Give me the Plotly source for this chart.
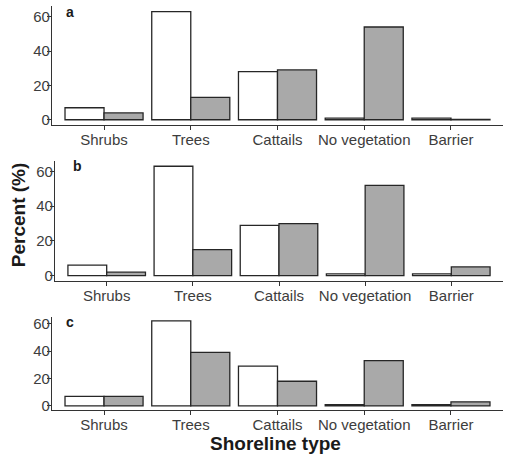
import plotly.graph_objects as go

categories = ["Shrubs", "Trees", "Cattails", "No vegetation", "Barrier"]
# panel a
a_white = [7, 63, 28, 1, 1]
a_grey = [4, 13, 29, 54, 0.2]
# panel b
b_white = [6, 63, 29, 1, 1]
b_grey = [2, 15, 30, 52, 5]
# panel c
c_white = [7, 62, 29, 1, 1]
c_grey = [7, 39, 18, 33, 3]
y_ticks = [0, 20, 40, 60]
panel_labels = ["a", "b", "c"]

W, H = 505, 460
FONT = "Liberation Sans, Arial, sans-serif"
EDGE = "#262626"
GREY = "#A9A9A9"

panels = [(a_white, a_grey), (b_white, b_grey), (c_white, c_grey)]
# pixel geometry (left, right, top, bottom)
geom = [(52, 503, 4.2, 124.8), (55, 503, 160.9, 282.8), (52, 503, 318.8, 413.6)]
label_pos = [(69.5, 10), (77.5, 166.5), (69.5, 324)]

fig = go.Figure()
for i, (wv, gv) in enumerate(panels):
    sfx = "" if i == 0 else str(i + 1)
    fig.add_trace(go.Bar(x=categories, y=wv, xaxis="x" + sfx, yaxis="y" + sfx,
                         marker=dict(color="white", line=dict(color=EDGE, width=1.3)),
                         offsetgroup="w", showlegend=False))
    fig.add_trace(go.Bar(x=categories, y=gv, xaxis="x" + sfx, yaxis="y" + sfx,
                         marker=dict(color=GREY, line=dict(color=EDGE, width=1.3)),
                         offsetgroup="g", showlegend=False))
    l, r, t, b = geom[i]
    ymax = max(max(wv), max(gv))
    xa = dict(domain=[l / W, r / W], anchor="y" + sfx, type="category",
              range=[-0.6, 4.6], showline=True, linecolor="#333333", linewidth=1.3,
              ticks="outside", ticklen=4, tickcolor="#333333", tickwidth=1.2,
              showgrid=False, zeroline=False, ticklabelstandoff=-3,
              tickfont=dict(family=FONT, size=15, color="#3d3d3d"))
    ya = dict(domain=[1 - b / H, 1 - t / H], anchor="x" + sfx,
              range=[-0.05 * ymax, 1.05 * ymax], showline=True, linecolor="#333333",
              linewidth=1.3, ticks="outside", ticklen=4, tickcolor="#333333",
              tickwidth=1.2, showgrid=False, zeroline=False, tickvals=y_ticks,
              ticklabelstandoff=-6,
              tickfont=dict(family=FONT, size=15, color="#3d3d3d"))
    fig.update_layout(**{"xaxis" + sfx: xa, "yaxis" + sfx: ya})
    lx, ly = label_pos[i]
    fig.add_annotation(text="<b>%s</b>" % panel_labels[i], xref="paper", yref="paper",
                       x=lx / W, y=1 - ly / H, showarrow=False, xanchor="center",
                       yanchor="middle", font=dict(family=FONT, size=14, color="#1a1a1a"))

fig.add_annotation(text="<b>Percent (%)</b>", xref="paper", yref="paper",
                   x=18 / W, y=1 - 216 / H, textangle=-90, showarrow=False,
                   xanchor="center", yanchor="middle",
                   font=dict(family=FONT, size=19, color="#1a1a1a"))
fig.add_annotation(text="<b>Shoreline type</b>", xref="paper", yref="paper",
                   x=275 / W, y=1 - 447 / H, showarrow=False,
                   xanchor="center", yanchor="middle",
                   font=dict(family=FONT, size=19, color="#1a1a1a"))

fig.update_layout(width=W, height=H, margin=dict(l=0, r=0, t=0, b=0),
                  barmode="group", bargap=0.1, bargroupgap=0,
                  plot_bgcolor="white", paper_bgcolor="white",
                  font=dict(family=FONT))
fig.write_html("out.html", config={"displayModeBar": False},
               post_script="document.body.style.margin='0';document.body.style.overflow='hidden';")
